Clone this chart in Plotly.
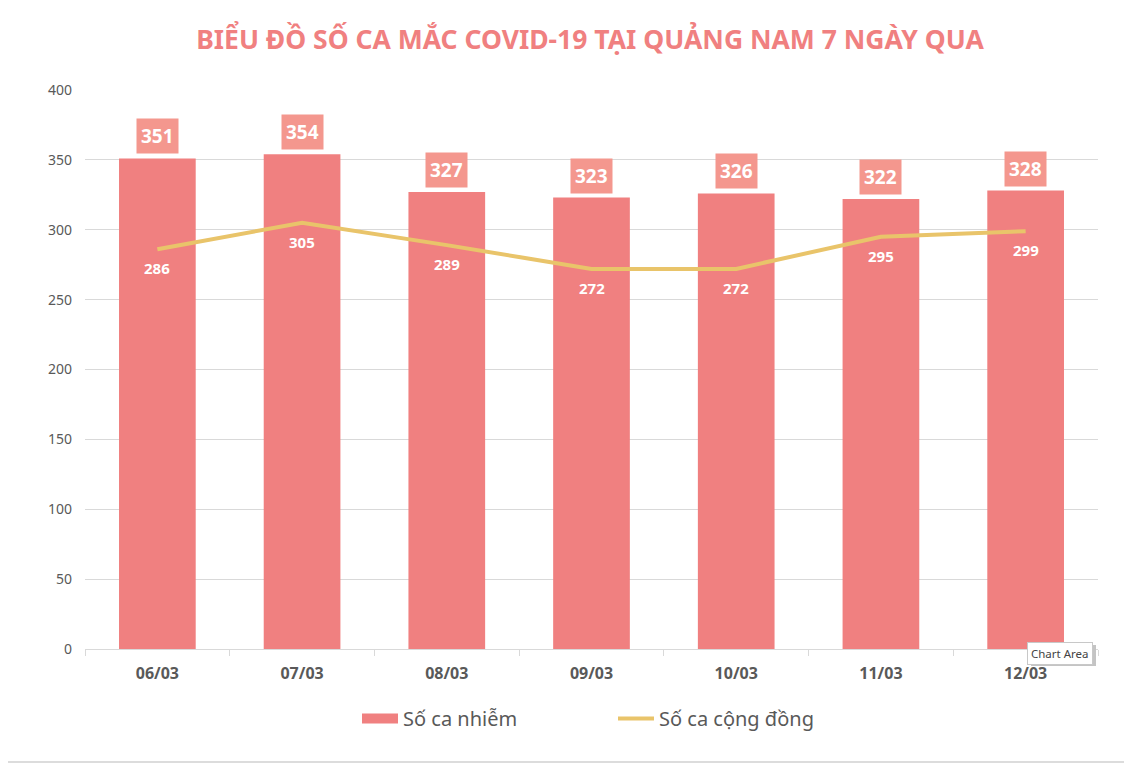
import plotly.graph_objects as go

dates = ["06/03", "07/03", "08/03", "09/03", "10/03", "11/03", "12/03"]
infected = [351, 354, 327, 323, 326, 322, 328]
community = [286, 305, 289, 272, 272, 295, 299]
y_ticks = [0, 50, 100, 150, 200, 250, 300, 350, 400]

FONT = "Noto Sans"
BAR_C = "#F08080"
LINE_C = "#E9C46A"

# page is offset by the default 8px body margin
ML, MR, MT, MB = 77, 42, 82, 123
PW = 1132 - ML - MR
PH = 764 - MT - MB


def px_x(x):
    return (x - ML) / PW


def px_y(y):
    return (PH - (y - MT)) / PH


fig = go.Figure()
fig.add_trace(go.Bar(
    x=dates, y=infected, name="Số ca nhiễm", showlegend=False,
    marker=dict(color=BAR_C, line=dict(width=0)),
    width=0.53,
))
fig.add_trace(go.Scatter(
    x=[None], y=[None], name="Số ca nhiễm", mode="lines",
    line=dict(color=BAR_C, width=10), hoverinfo="skip",
))
fig.add_trace(go.Scatter(
    x=dates, y=community, name="Số ca cộng đồng", mode="lines",
    line=dict(color=LINE_C, width=4),
))

ann = []
for d, v in zip(dates, infected):
    ann.append(dict(x=d, y=v, text=f"<b>{v}</b>", showarrow=False,
                    yanchor="bottom", yshift=4, bgcolor="#F4978E",
                    borderpad=4, font=dict(family=FONT, size=19, color="white")))
for d, v in zip(dates, community):
    ann.append(dict(x=d, y=v, text=f"<b>{v}</b>", showarrow=False,
                    yanchor="middle", yshift=-19,
                    font=dict(family=FONT, size=15, color="white")))
ann.append(dict(xref="paper", yref="paper", x=px_x(1052), y=px_y(634), text="Chart Area",
                showarrow=False, xanchor="center", yanchor="top",
                bgcolor="white", bordercolor="#C8C8C8", borderwidth=1, borderpad=3,
                font=dict(family=FONT, size=11.5, color="#444444")))

shapes = [
    dict(type="line", xref="paper", yref="paper",
         x0=px_x(0), x1=px_x(1132), y0=px_y(754), y1=px_y(754),
         line=dict(color="#D0D0D0", width=1.5)),
    dict(type="rect", xref="paper", yref="paper", layer="above",
         x0=px_x(1023), x1=px_x(1088), y0=px_y(637), y1=px_y(658),
         fillcolor="#C4C4C4", line=dict(width=0)),
]

fig.update_layout(
    width=1132, height=764,
    paper_bgcolor="white", plot_bgcolor="white",
    margin=dict(l=ML, r=MR, t=MT, b=MB),
    title=dict(text="<b>BIỂU ĐỒ SỐ CA MẮC COVID-19 TẠI QUẢNG NAM 7 NGÀY QUA</b>",
               x=582 / 1132, xanchor="center", y=1 - 32 / 764, yanchor="middle",
               font=dict(family=FONT, size=26.5, color=BAR_C)),
    showlegend=True,
    legend=dict(orientation="h", x=px_x(349), xanchor="left",
                y=-50 / PH, yanchor="top",
                font=dict(family=FONT, size=20, color="#595959"),
                itemwidth=36, tracegroupgap=0, entrywidthmode="pixels", entrywidth=205),
    annotations=ann,
    shapes=shapes,
    xaxis=dict(showgrid=False, showline=True, linecolor="#D9D9D9", linewidth=1,
               ticks="outside", ticklen=6, tickcolor="#D9D9D9", tickson="boundaries",
               ticklabelstandoff=10,
               tickfont=dict(family=FONT, size=16, color="#595959", weight="bold"),
               fixedrange=True),
    yaxis=dict(range=[0, 400], tickvals=y_ticks, showgrid=True, gridcolor="#D9D9D9",
               zeroline=False, showline=False, ticks="", ticklabelstandoff=12,
               tickfont=dict(family=FONT, size=14, color="#595959")),
)
fig.write_html("out.html")
